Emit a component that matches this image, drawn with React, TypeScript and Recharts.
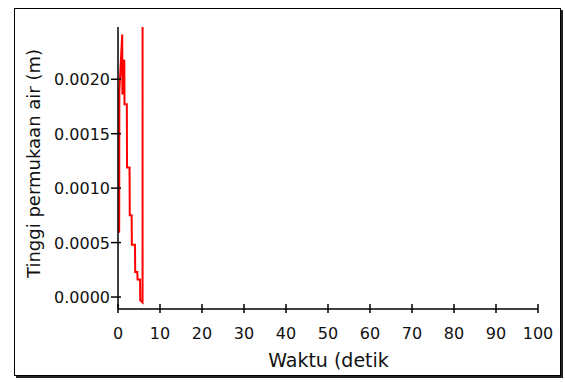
import { LineChart, Line, XAxis, YAxis, Label } from 'recharts';

// time (detik) and water-surface height (m)
const waktu = [0.28, 0.32, 1.0, 1.05, 1.5, 1.55, 2.1, 2.15, 2.75, 2.8, 3.25, 3.3, 4.05, 4.1, 4.6, 4.65, 5.25, 5.3, 5.85, 5.85];
const tinggi = [
    0.00059, 0.00189, 0.00241, 0.00186, 0.00218, 0.00177, 0.00177, 0.00119, 0.00119, 0.00075,
    0.00075, 0.00048, 0.00048, 0.00023, 0.00023, 0.00016, 0.00016, -0.00003, -0.00005, 0.003
];
const xTicks = [0, 10, 20, 30, 40, 50, 60, 70, 80, 90, 100];
const yTicks = [0, 0.0005, 0.001, 0.0015, 0.002];

const data = waktu.map((t, i) => ({ t, h: tinggi[i] }));

const FONT = '"DejaVu Sans", sans-serif';

function XTick(props: any) {
    const { x, y, payload } = props;
    return (
        <g>
            <line x1={x} x2={x} y1={y - 5} y2={y + 4} stroke="#000" strokeWidth={1.5} />
            <text x={x} y={y + 30} textAnchor="middle" fontFamily={FONT} fontSize={16} fill="#111">
                {payload.value}
            </text>
        </g>
    );
}

function YTick(props: any) {
    const { x, y, payload } = props;
    return (
        <g>
            <line x1={x - 7} x2={x + 3} y1={y} y2={y} stroke="#000" strokeWidth={1.5} />
            <text x={x - 8} y={y + 6} textAnchor="end" fontFamily={FONT} fontSize={16} fill="#111">
                {Number(payload.value).toFixed(4)}
            </text>
        </g>
    );
}

export default function App() {
    return (
        <div style={{ position: 'absolute', left: 0, top: 0, width: 565, height: 382, background: '#fff' }}>
            <div
                style={{
                    position: 'absolute',
                    left: 14,
                    top: 8,
                    width: 545,
                    height: 366,
                    border: '1px solid #000',
                    boxShadow: '2px 2px 0 #222',
                }}
            />
            <div style={{ position: 'absolute', left: 0, top: 0 }}>
                <LineChart width={565} height={382} data={data} margin={{ top: 27, right: 27, bottom: 43, left: 18 }}>
                    <XAxis
                        dataKey="t"
                        type="number"
                        domain={[0, 100]}
                        ticks={xTicks}
                        interval={0}
                        height={30}
                        tickSize={0}
                        tickMargin={0}
                        tickLine={false}
                        tick={<XTick />}
                        axisLine={{ stroke: '#000', strokeWidth: 1.5 }}
                    >
                        <Label
                            content={() => (
                                <text x={328.5} y={367} textAnchor="middle" fontFamily={FONT} fontSize={19} fill="#111">
                                    Waktu (detik
                                </text>
                            )}
                        />
                    </XAxis>
                    <YAxis
                        type="number"
                        domain={[-0.00011, 0.00248]}
                        allowDataOverflow
                        ticks={yTicks}
                        interval={0}
                        width={100}
                        tickSize={0}
                        tickMargin={0}
                        tickLine={false}
                        tick={<YTick />}
                        axisLine={{ stroke: '#000', strokeWidth: 1.5 }}
                    >
                        <Label
                            content={() => (
                                <text
                                    x={39.5}
                                    y={163.5}
                                    transform="rotate(-90, 39.5, 163.5)"
                                    textAnchor="middle"
                                    fontFamily={FONT}
                                    fontSize={18}
                                    fill="#111"
                                >
                                    Tinggi permukaan air (m)
                                </text>
                            )}
                        />
                    </YAxis>
                    <Line
                        type="linear"
                        dataKey="h"
                        stroke="#ff0000"
                        strokeWidth={2}
                        dot={false}
                        isAnimationActive={false}
                    />
                </LineChart>
            </div>
        </div>
    );
}
